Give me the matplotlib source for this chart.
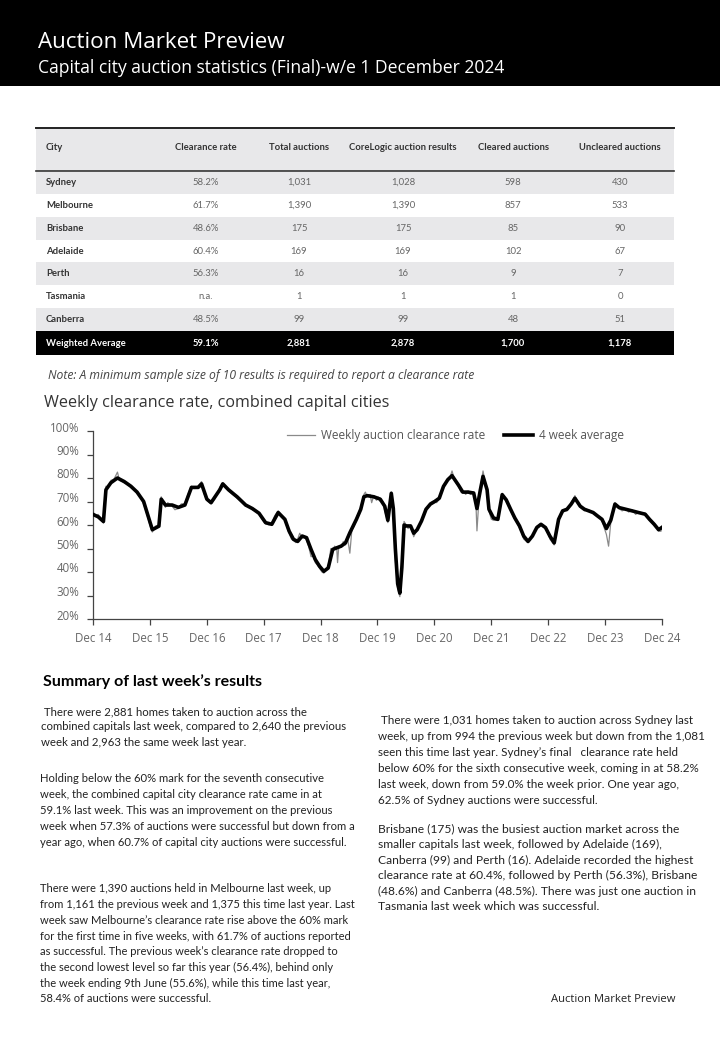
import matplotlib
matplotlib.use("Agg")
import matplotlib.pyplot as plt
import pandas as pd
from matplotlib.patches import Rectangle
from matplotlib.transforms import ScaledTranslation

# ---------------- data ----------------
title = "Auction Market Preview"
subtitle = "Capital city auction statistics (Final)-w/e 1 December 2024"

col_headers = ["City", "Clearance rate", "Total auctions", "CoreLogic auction results",
               "Cleared auctions", "Uncleared auctions"]
cities = ["Sydney", "Melbourne", "Brisbane", "Adelaide", "Perth", "Tasmania", "Canberra"]
clearance_rate = ["58.2%", "61.7%", "48.6%", "60.4%", "56.3%", "n.a.", "48.5%"]
total_auctions = [1031, 1390, 175, 169, 16, 1, 99]
corelogic_results = [1028, 1390, 175, 169, 16, 1, 99]
cleared_auctions = [598, 857, 85, 102, 9, 1, 48]
uncleared_auctions = [430, 533, 90, 67, 7, 0, 51]
avg_row = ["Weighted Average", "59.1%", "2,881", "2,878", "1,700", "1,178"]

note = "Note: A minimum sample size of 10 results is required to report a clearance rate"
chart_title = "Weekly clearance rate, combined capital cities"
series_weekly_name = "Weekly auction clearance rate"
series_avg_name = "4 week average"

x_tick_dates = [f"{y}-12-01" for y in range(2014, 2025)]
x_tick_labels = ["Dec 14", "Dec 15", "Dec 16", "Dec 17", "Dec 18", "Dec 19",
                 "Dec 20", "Dec 21", "Dec 22", "Dec 23", "Dec 24"]
y_ticks = [20, 30, 40, 50, 60, 70, 80, 90, 100]
y_tick_labels = ["20%", "30%", "40%", "50%", "60%", "70%", "80%", "90%", "100%"]

avg_dates = [
    "2014-12-01", "2015-01-03", "2015-02-06", "2015-02-22", "2015-03-26", "2015-05-07",
    "2015-06-19", "2015-08-01", "2015-09-10", "2015-10-22", "2015-11-19", "2015-12-17",
    "2016-01-28", "2016-02-12", "2016-03-10", "2016-04-22", "2016-06-01", "2016-07-13",
    "2016-08-24", "2016-10-06", "2016-10-28", "2016-12-01", "2016-12-28", "2017-02-22",
    "2017-03-13", "2017-04-19", "2017-06-13", "2017-08-07", "2017-09-19", "2017-11-01",
    "2017-12-13", "2018-01-22", "2018-03-04", "2018-04-16", "2018-05-13", "2018-06-10",
    "2018-07-07", "2018-08-05", "2018-09-02", "2018-10-01", "2018-10-28", "2018-11-25",
    "2018-12-22", "2019-01-19", "2019-02-17", "2019-03-15", "2019-04-12", "2019-05-10",
    "2019-06-07", "2019-07-19", "2019-08-16", "2019-09-05", "2019-09-26", "2019-11-08",
    "2019-12-19", "2020-01-17", "2020-02-06", "2020-02-28", "2020-03-12", "2020-03-25",
    "2020-04-09", "2020-04-23", "2020-05-06", "2020-05-20", "2020-06-03", "2020-07-01",
    "2020-07-21", "2020-08-12", "2020-09-09", "2020-10-08", "2020-11-05", "2020-12-03",
    "2021-01-01", "2021-01-28", "2021-02-25", "2021-03-24", "2021-05-04", "2021-06-01",
    "2021-07-05", "2021-08-10", "2021-08-31", "2021-09-22", "2021-10-09", "2021-11-04",
    "2021-11-16", "2021-12-15", "2022-01-12", "2022-02-09", "2022-03-07", "2022-04-04",
    "2022-05-01", "2022-05-31", "2022-06-27", "2022-07-25", "2022-08-22", "2022-09-19",
    "2022-10-16", "2022-11-14", "2022-12-12", "2023-01-09", "2023-02-06", "2023-03-04",
    "2023-04-01", "2023-04-28", "2023-05-22", "2023-06-25", "2023-07-22", "2023-08-19",
    "2023-09-16", "2023-10-13", "2023-11-12", "2023-12-10", "2024-01-07", "2024-02-03",
    "2024-03-01", "2024-04-12", "2024-05-24", "2024-07-03", "2024-08-15", "2024-09-12",
    "2024-10-12", "2024-11-09", "2024-12-01",
]
avg_values = [
    64.5, 63.5, 61.5, 75.0, 78.0, 80.0,
    78.5, 76.5, 74.0, 70.0, 64.0, 58.0,
    59.5, 71.0, 68.5, 68.5, 67.5, 68.5,
    76.0, 76.0, 77.5, 71.0, 69.5, 75.0,
    77.5, 75.0, 72.0, 68.5, 67.0, 65.0,
    61.0, 60.3, 65.3, 62.4, 57.4, 53.9,
    53.0, 55.3, 54.6, 49.6, 45.3, 42.4,
    40.3, 41.7, 49.6, 50.3, 51.0, 52.4,
    56.7, 62.4, 66.7, 72.0, 72.5, 72.0,
    71.0, 68.0, 62.0, 73.5, 67.0, 50.0,
    35.0, 31.0, 42.0, 60.0, 59.6, 59.6,
    56.5, 58.0, 61.7, 66.7, 68.9, 70.0,
    71.4, 76.4, 79.3, 81.0, 77.0, 74.0,
    74.0, 73.6, 67.0, 75.0, 80.7, 75.0,
    66.7, 63.0, 62.4, 72.9, 70.7, 66.7,
    63.0, 59.6, 55.3, 53.0, 55.3, 58.9,
    60.3, 58.9, 55.3, 52.4, 62.4, 66.0,
    66.7, 68.9, 71.4, 68.0, 66.7, 66.0,
    65.3, 63.9, 62.4, 58.5, 62.0, 68.9,
    67.4, 66.7, 66.0, 65.3, 64.6, 62.4,
    60.3, 58.0, 59.0,
]

weekly_dates = [
    "2014-12-01", "2014-12-20", "2015-01-03", "2015-01-24", "2015-02-06", "2015-02-15",
    "2015-02-22", "2015-03-10", "2015-03-26", "2015-04-15", "2015-05-07", "2015-05-20",
    "2015-06-19", "2015-07-10", "2015-08-01", "2015-08-20", "2015-09-10", "2015-10-01",
    "2015-10-22", "2015-11-05", "2015-11-19", "2015-12-05", "2015-12-17", "2016-01-05",
    "2016-01-28", "2016-02-06", "2016-02-12", "2016-02-25", "2016-03-10", "2016-03-25",
    "2016-04-22", "2016-05-10", "2016-06-01", "2016-06-20", "2016-07-13", "2016-08-01",
    "2016-08-24", "2016-09-15", "2016-10-06", "2016-10-28", "2016-11-15", "2016-12-01",
    "2016-12-28", "2017-01-20", "2017-02-10", "2017-02-22", "2017-03-13", "2017-04-01",
    "2017-04-19", "2017-05-15", "2017-06-13", "2017-07-10", "2017-08-07", "2017-09-01",
    "2017-09-19", "2017-10-10", "2017-11-01", "2017-11-20", "2017-12-13", "2018-01-05",
    "2018-01-22", "2018-02-10", "2018-03-04", "2018-03-25", "2018-04-16", "2018-05-01",
    "2018-05-13", "2018-05-28", "2018-06-10", "2018-06-25", "2018-07-07", "2018-07-20",
    "2018-08-05", "2018-08-20", "2018-09-02", "2018-09-15", "2018-10-01", "2018-10-15",
    "2018-10-28", "2018-11-10", "2018-11-25", "2018-12-10", "2018-12-22", "2019-01-05",
    "2019-01-19", "2019-02-05", "2019-02-17", "2019-03-01", "2019-03-15", "2019-03-20",
    "2019-03-28", "2019-04-12", "2019-04-26", "2019-05-10", "2019-05-22", "2019-06-07",
    "2019-06-20", "2019-07-05", "2019-07-19", "2019-08-01", "2019-08-16", "2019-09-05",
    "2019-09-15", "2019-09-26", "2019-10-15", "2019-10-25", "2019-11-08", "2019-11-25",
    "2019-12-05", "2019-12-19", "2020-01-05", "2020-01-17", "2020-02-06", "2020-02-20",
    "2020-02-28", "2020-03-05", "2020-03-12", "2020-03-25", "2020-04-09", "2020-04-23",
    "2020-05-06", "2020-05-20", "2020-06-03", "2020-06-15", "2020-07-01", "2020-07-21",
    "2020-08-12", "2020-08-25", "2020-09-09", "2020-10-08", "2020-10-22", "2020-11-05",
    "2020-12-03", "2020-12-15", "2021-01-01", "2021-01-15", "2021-01-28", "2021-02-10",
    "2021-02-25", "2021-03-10", "2021-03-24", "2021-04-10", "2021-05-04", "2021-05-20",
    "2021-06-01", "2021-06-20", "2021-07-05", "2021-07-20", "2021-08-10", "2021-08-25",
    "2021-08-31", "2021-09-10", "2021-09-22", "2021-10-09", "2021-10-20", "2021-11-04",
    "2021-11-16", "2021-12-01", "2021-12-15", "2022-01-12", "2022-01-25", "2022-02-09",
    "2022-02-25", "2022-03-07", "2022-04-04", "2022-05-01", "2022-05-31", "2022-06-15",
    "2022-06-27", "2022-07-25", "2022-08-22", "2022-09-05", "2022-09-19", "2022-10-16",
    "2022-11-14", "2022-12-01", "2022-12-12", "2023-01-09", "2023-01-25", "2023-02-06",
    "2023-02-20", "2023-03-04", "2023-04-01", "2023-04-15", "2023-04-28", "2023-05-22",
    "2023-06-10", "2023-06-25", "2023-07-22", "2023-08-19", "2023-09-16", "2023-10-13",
    "2023-11-12", "2023-11-25", "2023-12-10", "2023-12-24", "2024-01-07", "2024-01-20",
    "2024-02-03", "2024-03-01", "2024-03-20", "2024-04-12", "2024-05-01", "2024-05-24",
    "2024-06-15", "2024-07-03", "2024-08-15", "2024-08-30", "2024-09-12", "2024-10-12",
    "2024-10-25", "2024-11-09", "2024-11-24", "2024-12-01",
]
weekly_values = [
    65.5, 63.8, 64.5, 62.5, 60.8, 69.0,
    76.5, 76.0, 79.0, 79.5, 82.5, 79.0,
    78.0, 77.5, 76.0, 75.0, 73.5, 72.0,
    69.0, 66.0, 63.0, 59.0, 57.0, 59.5,
    60.0, 66.0, 72.0, 69.5, 67.5, 69.5,
    68.0, 66.5, 67.0, 69.0, 69.0, 73.0,
    76.5, 75.5, 76.5, 78.5, 73.0, 70.5,
    69.0, 71.0, 74.0, 76.0, 78.0, 76.5,
    74.5, 73.0, 71.5, 70.0, 68.0, 68.0,
    66.5, 66.0, 64.5, 62.5, 60.5, 60.0,
    61.0, 64.0, 66.0, 64.0, 62.0, 59.0,
    56.5, 54.0, 53.5, 52.5, 54.0, 56.5,
    54.5, 55.0, 53.5, 51.0, 46.5, 47.0,
    44.0, 43.0, 41.5, 40.0, 39.5, 41.0,
    42.5, 50.0, 49.0, 51.0, 50.0, 44.0,
    51.0, 50.5, 53.0, 51.5, 55.0, 48.0,
    58.0, 59.5, 63.0, 65.0, 67.5, 73.0,
    74.0, 72.0, 73.0, 69.5, 72.5, 70.5,
    72.0, 70.0, 70.0, 66.0, 61.0, 70.0,
    74.0, 72.0, 65.0, 45.0, 33.0, 29.5,
    45.0, 61.5, 60.0, 58.5, 60.0, 55.0,
    58.5, 59.5, 62.0, 67.0, 68.0, 69.5,
    70.5, 69.5, 71.0, 74.0, 77.0, 78.0,
    79.5, 80.0, 83.0, 79.0, 76.5, 74.0,
    74.5, 73.0, 74.5, 73.0, 74.0, 68.0,
    57.5, 68.0, 76.0, 83.0, 79.0, 74.0,
    66.0, 62.5, 62.0, 62.0, 67.0, 73.5,
    72.0, 70.0, 66.0, 62.5, 59.0, 56.5,
    54.0, 52.5, 55.5, 57.5, 59.5, 60.5,
    59.0, 56.5, 54.0, 51.5, 57.0, 63.0,
    65.0, 66.5, 66.0, 68.0, 69.5, 72.5,
    69.0, 67.5, 66.0, 66.5, 65.0, 64.0,
    62.0, 59.0, 56.0, 51.0, 61.0, 65.0,
    69.5, 67.0, 66.0, 67.0, 65.5, 66.5,
    64.5, 65.5, 65.0, 63.0, 62.0, 60.0,
    59.5, 57.5, 57.3, 59.1,
]

summary_heading = "Summary of last week\u2019s results"
para1 = [" There were 2,881 homes taken to auction across the",
         "combined capitals last week, compared to 2,640 the previous",
         "week and 2,963 the same week last year."]
para2 = ["Holding below the 60% mark for the seventh consecutive",
         "week, the combined capital city clearance rate came in at",
         "59.1% last week. This was an improvement on the previous",
         "week when 57.3% of auctions were successful but down from a",
         "year ago, when 60.7% of capital city auctions were successful."]
para3 = ["There were 1,390 auctions held in Melbourne last week, up",
         "from 1,161 the previous week and 1,375 this time last year. Last",
         "week saw Melbourne\u2019s clearance rate rise above the 60% mark",
         "for the first time in five weeks, with 61.7% of auctions reported",
         "as successful. The previous week\u2019s clearance rate dropped to",
         "the second lowest level so far this year (56.4%), behind only",
         "the week ending 9th June (55.6%), while this time last year,",
         "58.4% of auctions were successful."]
para4 = [" There were 1,031 homes taken to auction across Sydney last",
         "week, up from 994 the previous week but down from the 1,081",
         "seen this time last year. Sydney\u2019s final   clearance rate held",
         "below 60% for the sixth consecutive week, coming in at 58.2%",
         "last week, down from 59.0% the week prior. One year ago,",
         "62.5% of Sydney auctions were successful."]
para5 = ["Brisbane (175) was the busiest auction market across the",
         "smaller capitals last week, followed by Adelaide (169),",
         "Canberra (99) and Perth (16). Adelaide recorded the highest",
         "clearance rate at 60.4%, followed by Perth (56.3%), Brisbane",
         "(48.6%) and Canberra (48.5%). There was just one auction in",
         "Tasmania last week which was successful."]
footer = "Auction Market Preview"

# ---------------- layout ----------------
W, H = 720, 1040
fig = plt.figure(figsize=(W / 100, H / 100), dpi=100)
fig.patch.set_facecolor("white")
page = fig.add_axes([0, 0, 1, 1])
page.set_xlim(0, W)
page.set_ylim(H, 0)
page.axis("off")
renderer = fig.canvas.get_renderer()

HEAD_FONT = ["Open Sans", "DejaVu Sans"]
BODY_FONT = ["Lato", "DejaVu Sans"]


def fit_size(s, width, family, weight="normal", style="normal"):
    t = fig.text(0, 0, s, fontsize=10, family=family, weight=weight, style=style)
    w = t.get_window_extent(renderer).width
    t.remove()
    return 10.0 * width / w


def put(x, y, s, size, family, color="black", ha="left", weight="normal", style="normal"):
    page.text(x, y, s, fontsize=size, family=family, color=color, ha=ha, va="center",
              weight=weight, style=style)


# header band
page.add_patch(Rectangle((0, 0), W, 86, color="black", lw=0))
put(38, 42, title, fit_size(title, 247, HEAD_FONT), HEAD_FONT, color="white")
put(38, 68, subtitle, fit_size(subtitle, 469, HEAD_FONT), HEAD_FONT, color="white")

# table
tx0, tx1 = 36, 674
col_x = [46, 206, 299, 403, 513, 620]
row_bounds = [171, 194, 217, 240, 262, 285, 308, 331]
grey_bg = "#e8e8ea"
page.add_patch(Rectangle((tx0, 127), tx1 - tx0, 44, color=grey_bg, lw=0))
page.plot([tx0, tx1], [127.5, 127.5], color="#222222", lw=1.4)
page.plot([tx0, tx1], [171, 171], color="#333333", lw=1.2)
hsize = fit_size(col_headers[3], 107, BODY_FONT, weight="bold")
for i, hname in enumerate(col_headers):
    put(col_x[i], 148, hname, hsize, BODY_FONT, color="#333333",
        ha="left" if i == 0 else "center", weight="bold")

rows = []
for i in range(len(cities)):
    rows.append([cities[i], clearance_rate[i], f"{total_auctions[i]:,}",
                 f"{corelogic_results[i]:,}", f"{cleared_auctions[i]:,}",
                 f"{uncleared_auctions[i]:,}"])
for r, row in enumerate(rows):
    top = row_bounds[r] + (0.5 if r == 0 else 0)
    bot = row_bounds[r + 1]
    if r % 2 == 0:
        page.add_patch(Rectangle((tx0, top), tx1 - tx0, bot - top, color=grey_bg, lw=0))
    yc = (row_bounds[r] + bot) / 2
    for c, val in enumerate(row):
        if c == 0:
            put(col_x[c], yc, val, hsize, BODY_FONT, color="#333333", weight="bold")
        else:
            put(col_x[c], yc, val, hsize, BODY_FONT, color="#666666", ha="center")
page.add_patch(Rectangle((tx0, 331), tx1 - tx0, 24, color="black", lw=0))
for c, val in enumerate(avg_row):
    put(col_x[c], 343, val, hsize, BODY_FONT, color="white",
        ha="left" if c == 0 else "center", weight="bold")

put(48, 376, note, fit_size(note, 427, HEAD_FONT, style="italic"), HEAD_FONT,
    color="#444444", style="italic")
put(44, 403, chart_title, fit_size(chart_title, 344, HEAD_FONT), HEAD_FONT, color="#333333")

# chart
ax_l, ax_r, ax_t, ax_b = 93, 662, 431, 619
ax = fig.add_axes([ax_l / W, 1 - ax_b / H, (ax_r - ax_l) / W, (ax_b - ax_t) / H])
ax.patch.set_alpha(0)
ax.plot(pd.to_datetime(weekly_dates), weekly_values, color="#8a8a8a", lw=0.9,
        label=series_weekly_name, zorder=2)
ax.plot(pd.to_datetime(avg_dates), avg_values, color="black", lw=2.6,
        label=series_avg_name, zorder=3, solid_joinstyle="round")
ax.set_xlim(pd.Timestamp(x_tick_dates[0]), pd.Timestamp(x_tick_dates[-1]))
ax.set_ylim(20, 100)
ax.set_xticks(pd.to_datetime(x_tick_dates))
ax.set_xticklabels(x_tick_labels)
ax.set_yticks(y_ticks)
ax.set_yticklabels(y_tick_labels)
for s in ["top", "right"]:
    ax.spines[s].set_visible(False)
for s in ["left", "bottom"]:
    ax.spines[s].set_color("#444444")
    ax.spines[s].set_linewidth(0.9)
ax.tick_params(axis="x", length=4, width=0.9, color="#444444", labelcolor="#666666",
               labelsize=8.3, pad=5)
ax.tick_params(axis="y", length=4, width=0.9, color="#444444", labelcolor="#666666",
               labelsize=8.3, pad=6)
for lab in ax.get_xticklabels() + ax.get_yticklabels():
    lab.set_family(HEAD_FONT)
shift = ScaledTranslation(0, 0.045, fig.dpi_scale_trans)
for lab in ax.get_yticklabels():
    lab.set_transform(lab.get_transform() + shift)
leg = ax.legend(loc="center left", bbox_to_anchor=((287 - ax_l) / (ax_r - ax_l),
                (ax_b - 436) / (ax_b - ax_t)), frameon=False, ncol=2,
                handlelength=2.4, handletextpad=0.5, columnspacing=1.6,
                borderpad=0, borderaxespad=0, prop={"family": HEAD_FONT, "size": 8.5})
for t in leg.get_texts():
    t.set_color("#555555")

# text columns
put(43, 682, summary_heading, fit_size(summary_heading, 220, BODY_FONT, weight="bold"),
    BODY_FONT, color="black", weight="bold")

s1 = fit_size(para1[1], 307, BODY_FONT)
for i, line in enumerate(para1):
    put(41, 712 + 15 * i, line, s1, BODY_FONT, color="#222222")
s2 = fit_size(para2[3], 314, BODY_FONT)
for i, line in enumerate(para2):
    put(40, 778 + 16 * i, line, s2, BODY_FONT, color="#222222")
s3 = fit_size(para3[1], 315, BODY_FONT)
for i, line in enumerate(para3):
    put(40, 889 + 15.7 * i, line, s3, BODY_FONT, color="#222222")
s4 = fit_size(para4[3], 319, BODY_FONT)
for i, line in enumerate(para4):
    put(378, 720 + 16 * i, line, s4, BODY_FONT, color="#222222")
s5 = fit_size(para5[3], 319, BODY_FONT)
for i, line in enumerate(para5):
    put(378, 829 + 15.6 * i, line, s5, BODY_FONT, color="#222222")

put(551, 999, footer, fit_size(footer, 124, HEAD_FONT), HEAD_FONT, color="#222222")

fig.savefig("out.png", dpi=100)
